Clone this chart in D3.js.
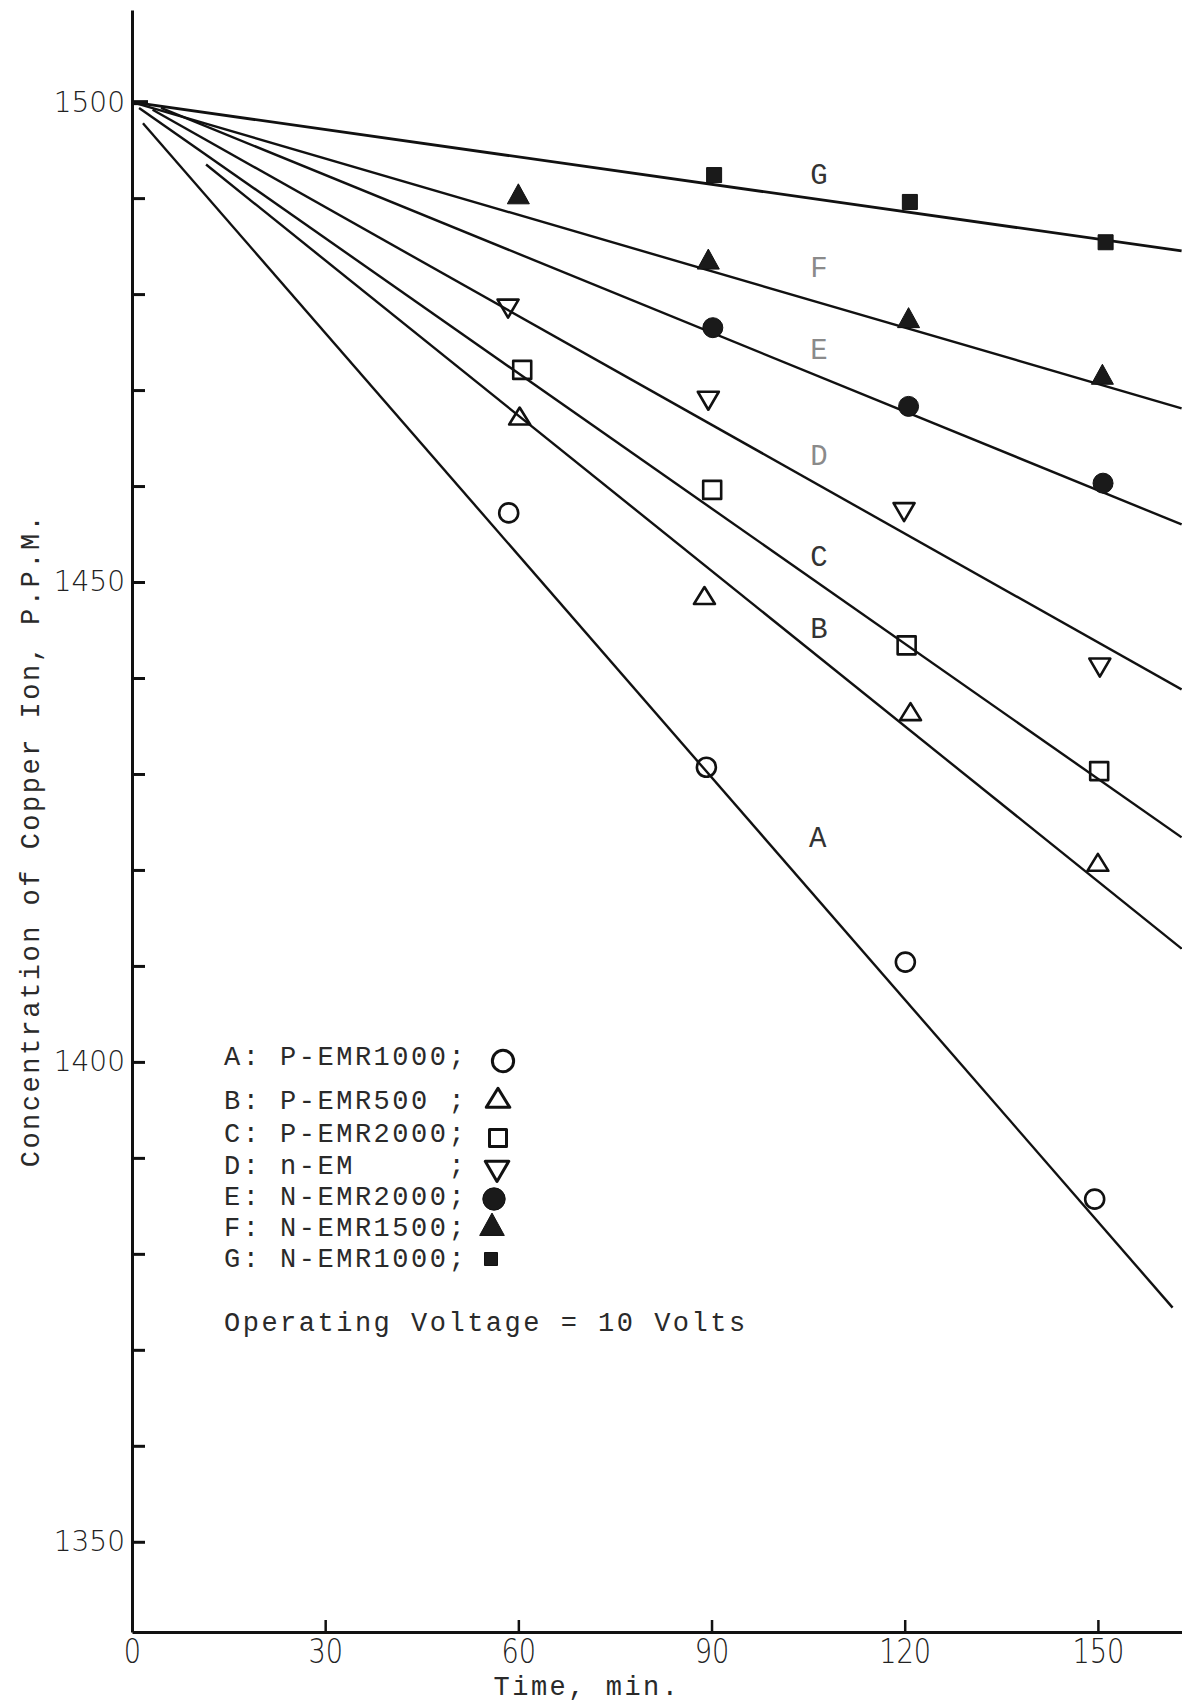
<!DOCTYPE html>
<html>
<head>
<meta charset="utf-8">
<script src="https://cdn.jsdelivr.net/npm/d3@7"></script>
<style>
  html, body { margin: 0; padding: 0; background: #fff; }
  svg { display: block; }
</style>
</head>
<body>
<svg id="chart" width="1182" height="1704"></svg>
<script>
// Copper ion concentration vs. time for seven electrode/membrane set-ups
const seriesIds    = ["A", "B", "C", "D", "E", "F", "G"];
const seriesNames  = ["P-EMR1000", "P-EMR500 ", "P-EMR2000", "n-EM     ", "N-EMR2000", "N-EMR1500", "N-EMR1000"];
const seriesShapes = ["circle", "triangleUp", "square", "triangleDown", "circle", "triangleUp", "square"];
const seriesFilled = [false, false, false, false, true, true, true];

// measured points (time in min, concentration in p.p.m.)
const timesA  = [58.5, 89.2, 120.1, 149.5];
const valuesA = [1457.2, 1430.7, 1410.4, 1385.7];
const timesB  = [60.2, 88.9, 120.9, 150.0];
const valuesB = [1467.0, 1448.3, 1436.2, 1420.5];
const timesC  = [60.6, 90.1, 120.3, 150.2];
const valuesC = [1472.1, 1459.6, 1443.4, 1430.3];
const timesD  = [58.4, 89.5, 119.9, 150.3];
const valuesD = [1478.8, 1469.2, 1457.6, 1441.4];
const timesE  = [90.2, 120.6, 150.8];
const valuesE = [1476.5, 1468.3, 1460.3];
const timesF  = [60.0, 89.5, 120.6, 150.7];
const valuesF = [1490.1, 1483.3, 1477.2, 1471.3];
const timesG  = [90.4, 120.8, 151.2];
const valuesG = [1492.4, 1489.6, 1485.4];

// straight fitted lines: start and end (time, concentration), order A..G
const fitStartT = [1.7, 11.5, 1.1, 3.2, 4.5, 0, 0];
const fitStartV = [1497.8, 1493.5, 1499.4, 1499.2, 1499.4, 1500, 1500];
const fitEndT   = [161.6, 163, 163, 163, 163, 163, 163];
const fitEndV   = [1374.4, 1411.8, 1423.4, 1438.8, 1456.0, 1468.1, 1484.5];

// in-plot curve letters, order A..G
const curveLabelT = [106.5, 106.7, 106.7, 106.7, 106.7, 106.7, 106.7];
const curveLabelV = [1423.5, 1445.3, 1452.8, 1463.3, 1474.3, 1482.9, 1492.6];

// axes
const xTicks  = [0, 30, 60, 90, 120, 150];
const yTicks  = d3.range(1350, 1501, 10);
const yLabels = [1350, 1400, 1450, 1500];
const xTitle  = "Time, min.";
const yTitle  = "Concentration of Copper Ion, P.P.M.";
const note    = "Operating Voltage = 10 Volts";

const allTimes  = [timesA, timesB, timesC, timesD, timesE, timesF, timesG];
const allValues = [valuesA, valuesB, valuesC, valuesD, valuesE, valuesF, valuesG];

// typewriter-like text: fixed pitch with a little extra spacing
const MONO = '"Liberation Mono", "Courier New", "DejaVu Sans Mono", monospace';
const SANS = '"DejaVu Sans", "Noto Sans", sans-serif';
const monoSize = 27, monoSpacing = 2.5;

const svg = d3.select("#chart");
const x = d3.scaleLinear().domain([0, 163]).range([132, 1181.6]);
const y = d3.scaleLinear().domain([1340.6, 1509.6]).range([1632, 10]);

// marker geometry
function markerPath(shape, filled, legend) {
  const p = d3.path();
  const k = legend ? 1.12 : 1;
  if (shape === "circle") {
    const r = (filled ? 10 : 9.5) * k;
    p.arc(0, 0, r, 0, 2 * Math.PI);
  } else if (shape === "triangleUp") {
    const w = (filled ? 22 : 21) * k, h = (filled ? 20 : 17) * k;
    p.moveTo(0, -h * 2 / 3); p.lineTo(w / 2, h / 3); p.lineTo(-w / 2, h / 3); p.closePath();
  } else if (shape === "triangleDown") {
    const w = 21 * k, h = 18 * k;
    p.moveTo(0, h * 2 / 3); p.lineTo(w / 2, -h / 3); p.lineTo(-w / 2, -h / 3); p.closePath();
  } else {
    const s = filled ? (legend ? 13 : 15) : (legend ? 17 : 18);
    p.rect(-s / 2, -s / 2, s, s);
  }
  return p.toString();
}

function monoText(sel) {
  return sel.attr("font-family", MONO)
    .attr("font-size", monoSize)
    .attr("letter-spacing", monoSpacing)
    .attr("fill", "#2a2a2a");
}

// x axis
const gx = svg.append("g")
  .attr("transform", `translate(0,${y(1340.6)})`)
  .call(d3.axisBottom(x).tickValues(xTicks).tickSizeInner(-12).tickSizeOuter(0).tickPadding(7));
gx.select(".domain").attr("stroke", "#111").attr("stroke-width", 3);
gx.selectAll(".tick line").attr("stroke", "#111").attr("stroke-width", 2.5);
gx.selectAll(".tick text")
  .attr("font-family", SANS).attr("font-weight", 200).attr("font-size", 34)
  .attr("fill", "#222").attr("transform", "scale(0.8,1)");

// y axis
const gy = svg.append("g")
  .attr("transform", `translate(${x(0)},0)`)
  .call(d3.axisLeft(y).tickValues(yTicks).tickSizeInner(-13).tickSizeOuter(0).tickPadding(7)
    .tickFormat(d => yLabels.includes(d) ? d : ""));
gy.select(".domain").attr("stroke", "#111").attr("stroke-width", 3);
gy.selectAll(".tick line").attr("stroke", "#111")
  .attr("stroke-width", d => d === 1500 ? 5 : 3)
  .attr("x2", d => d === 1500 ? 16 : 13);
gy.selectAll(".tick text")
  .attr("font-family", SANS).attr("font-weight", 200).attr("font-size", 28)
  .attr("fill", "#222");

// fitted lines
const lineData = seriesIds.map((id, i) => [[fitStartT[i], fitStartV[i]], [fitEndT[i], fitEndV[i]]]);
const line = d3.line().x(d => x(d[0])).y(d => y(d[1]));
svg.append("g").selectAll("path").data(lineData).join("path")
  .attr("d", line)
  .attr("fill", "none")
  .attr("stroke", "#111")
  .attr("stroke-width", (d, i) => i === 6 ? 2.8 : 2.4);

// measured points
seriesIds.forEach((id, i) => {
  const pts = allTimes[i].map((t, j) => [t, allValues[i][j]]);
  svg.append("g").selectAll("path").data(pts).join("path")
    .attr("transform", d => `translate(${x(d[0])},${y(d[1])})`)
    .attr("d", markerPath(seriesShapes[i], seriesFilled[i], false))
    .attr("fill", seriesFilled[i] ? "#1a1a1a" : "none")
    .attr("stroke", "#111")
    .attr("stroke-width", seriesFilled[i] ? 1 : 2.6)
    .attr("stroke-linejoin", "round");
});

// curve letters
svg.append("g").selectAll("text").data(seriesIds).join("text")
  .attr("x", (d, i) => x(curveLabelT[i]))
  .attr("y", (d, i) => y(curveLabelV[i]))
  .attr("dy", "0.36em")
  .attr("text-anchor", "middle")
  .attr("font-family", MONO).attr("font-size", 29)
  .attr("fill", (d, i) => (i >= 3 && i <= 5) ? "#8a8a8a" : "#333")
  .text(d => d);

// legend
const legendX = 224;
const legendBase = [1065, 1109, 1142, 1174, 1205, 1236, 1267];
const legendMarkX = [503, 498, 498, 497, 494, 492, 491];
const legendMarkY = [1061, 1101, 1138, 1168, 1199, 1228, 1259];
const legend = svg.append("g");
seriesIds.forEach((id, i) => {
  legend.append("text")
    .attr("x", legendX).attr("y", legendBase[i])
    .attr("xml:space", "preserve").style("white-space", "pre")
    .call(monoText)
    .text(`${id}: ${seriesNames[i]};`);
  legend.append("path")
    .attr("transform", `translate(${legendMarkX[i]},${legendMarkY[i]})`)
    .attr("d", markerPath(seriesShapes[i], seriesFilled[i], true))
    .attr("fill", seriesFilled[i] ? "#1a1a1a" : "none")
    .attr("stroke", "#111")
    .attr("stroke-width", seriesFilled[i] ? 1 : 3)
    .attr("stroke-linejoin", "round");
});
legend.append("text")
  .attr("x", legendX).attr("y", 1331)
  .call(monoText)
  .text(note);

// axis titles
svg.append("text")
  .attr("x", 587).attr("y", 1695)
  .attr("text-anchor", "middle")
  .call(monoText)
  .text(xTitle);
svg.append("text")
  .attr("transform", "translate(39,840) rotate(-90)")
  .attr("text-anchor", "middle")
  .call(monoText)
  .text(yTitle);
</script>
</body>
</html>
